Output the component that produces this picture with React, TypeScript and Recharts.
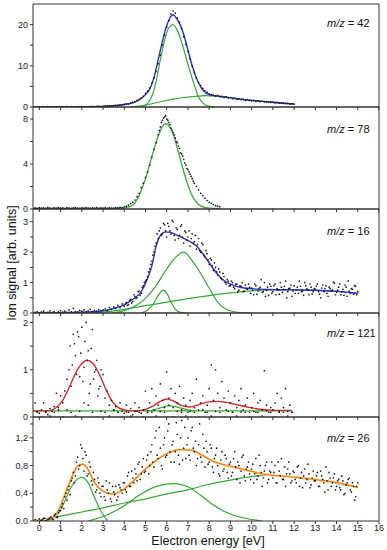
import React from 'react';
import { ComposedChart, Line, Scatter, XAxis, YAxis } from 'recharts';

const FONT = 'Arial, "Liberation Sans", sans-serif';
const X_DOMAIN: [number, number] = [-0.3, 16];
const X_TICKS = [0, 1, 2, 3, 4, 5, 6, 7, 8, 9, 10, 11, 12, 13, 14, 15, 16];

const BLUE = '#2e2ed6';
const GREEN = '#34aa34';
const RED = '#d42a2a';
const ORANGE = '#ee7d22';
const HALO = '#fbe7a8';
const AXIS = '#333';

type Pt = { x: number; y: number };
const zip = (xs: number[], ys: number[]): Pt[] => xs.map((x, i) => ({ x, y: ys[i] }));
const scan = (x0: number, ys: number[], step = 0.1): Pt[] =>
  ys.map((y, i) => ({ x: +(x0 + i * step).toFixed(2), y }));

// ---------- m/z = 42 ----------
const fit42X = [-0.3, 1, 2, 3, 3.5, 4, 4.4, 4.7, 5.0, 5.2, 5.4, 5.6, 5.8, 6.0, 6.15, 6.3, 6.45, 6.6, 6.8, 7.0, 7.2, 7.4, 7.6, 7.8, 8.0, 8.3, 8.7, 9.2, 10, 11, 12];
const fit42Y = [0, 0.02, 0.05, 0.15, 0.3, 0.6, 1.0, 1.7, 3.0, 4.4, 7.2, 11.5, 16.0, 19.8, 21.6, 22.4, 21.6, 20.3, 17.6, 13.8, 10.0, 7.0, 4.9, 3.6, 3.0, 2.7, 2.45, 2.1, 1.6, 1.15, 0.7];
const peak42X = [4.6, 4.9, 5.1, 5.3, 5.5, 5.7, 5.9, 6.1, 6.3, 6.5, 6.7, 6.9, 7.1, 7.3, 7.5, 7.7, 7.9, 8.2];
const peak42Y = [0, 0.25, 0.9, 2.6, 6.3, 11.5, 16.2, 19.3, 20.0, 18.6, 15.8, 12.2, 8.6, 5.4, 2.4, 1.0, 0.3, 0.05];
const bg42X = [4.3, 4.8, 5.3, 5.8, 6.3, 6.8, 7.3, 7.8, 8.3, 8.7, 9.2, 10, 11, 12];
const bg42Y = [0, 0.3, 0.8, 1.4, 1.9, 2.3, 2.55, 2.75, 2.65, 2.45, 2.1, 1.6, 1.15, 0.7];
const dots42Y = [
  0.05, 0.0, 0.08, 0.02, 0.1, 0.0, 0.04, 0.06, 0.0, 0.09,
  0.03, 0.05, 0.0, 0.07, 0.02, 0.1, 0.04, 0.0, 0.08, 0.05,
  0.12, 0.03, 0.09, 0.06, 0.1, 0.15, 0.08, 0.14, 0.2, 0.12,
  0.18, 0.25, 0.2, 0.3, 0.26, 0.35, 0.42, 0.38, 0.5, 0.55,
  0.62, 0.8, 0.75, 1.0, 1.1, 1.3, 1.6, 1.9, 2.2, 2.6,
  3.3, 3.9, 4.6, 5.8, 7.0, 8.6, 10.5, 12.6, 15.0, 17.4,
  19.4, 21.0, 22.6, 23.3, 22.8, 21.6, 20.6, 19.0, 17.0, 15.2,
  13.5, 11.6, 9.9, 8.4, 7.1, 6.0, 5.2, 4.5, 4.0, 3.6,
  3.2, 3.0, 2.9, 2.7, 2.8, 2.5, 2.6, 2.3, 2.5, 2.2,
  2.3, 2.0, 2.1, 1.9, 2.0, 1.8, 1.9, 1.6, 1.8, 1.6,
  1.5, 1.6, 1.4, 1.5, 1.3, 1.4, 1.2, 1.3, 1.2, 1.1,
  1.2, 1.0, 1.1, 0.95, 1.0, 0.9, 0.85, 0.9, 0.75, 0.8,
  0.7,
];

// ---------- m/z = 78 ----------
const fit78X = [-0.3, 1, 2, 3, 3.6, 4.0, 4.4, 4.7, 5.0, 5.2, 5.4, 5.6, 5.8, 5.95, 6.1, 6.3, 6.5, 6.7, 6.9, 7.1, 7.3, 7.5, 7.7, 8.0, 8.5];
const fit78Y = [0.05, 0.05, 0.05, 0.05, 0.06, 0.1, 0.35, 1.2, 2.7, 4.0, 5.3, 6.5, 7.35, 7.6, 7.4, 6.7, 5.4, 4.0, 2.7, 1.6, 0.85, 0.4, 0.18, 0.07, 0.05];
const dots78Y = [
  0.1, 0.05, 0.12, 0.08, 0.1, 0.06, 0.14, 0.09, 0.05, 0.11,
  0.08, 0.13, 0.07, 0.1, 0.04, 0.12, 0.09, 0.06, 0.1, 0.13,
  0.08, 0.05, 0.11, 0.07, 0.12, 0.09, 0.06, 0.1, 0.08, 0.12,
  0.05, 0.1,
  0.08, 0.11, 0.06, 0.1, 0.09, 0.07, 0.12, 0.1, 0.14, 0.12,
  0.2, 0.25, 0.35, 0.5, 0.6, 0.8, 1.1, 1.4, 1.9, 2.3,
  2.8, 3.3, 3.9, 4.6, 5.3, 5.9, 6.6, 7.3, 7.9, 8.2,
  8.0, 7.7, 7.2, 6.8, 6.3, 5.9, 5.4, 4.9, 4.4, 3.9,
  3.5, 3.1, 2.7, 2.3, 2.0, 1.7, 1.4, 1.2, 0.95, 0.75,
  0.6, 0.5, 0.4, 0.3, 0.25, 0.2,
];
const dots78bY = [7.0, 7.7, 8.1, 8.3, 7.9, 7.5, 7.0, 6.6, 6.0, 5.6, 5.0, 4.7, 4.1, 3.6, 3.3, 2.9, 2.5];

// ---------- m/z = 16 ----------
const fit16X = [-0.3, 1, 2, 2.8, 3.5, 4.0, 4.4, 4.8, 5.1, 5.3, 5.5, 5.7, 5.9, 6.1, 6.5, 7.0, 7.4, 7.8, 8.2, 8.6, 9.0, 9.5, 10, 11, 12, 13, 14, 15];
const fit16Y = [0, 0.01, 0.03, 0.05, 0.15, 0.27, 0.45, 0.7, 1.15, 1.55, 2.2, 2.55, 2.66, 2.66, 2.55, 2.38, 2.2, 1.85, 1.45, 1.12, 0.95, 0.84, 0.8, 0.77, 0.76, 0.75, 0.71, 0.65];
const bigPeak16X = [3.4, 4.0, 4.5, 5.0, 5.5, 6.0, 6.4, 6.8, 7.2, 7.6, 8.0, 8.4, 8.8, 9.2, 9.6, 10];
const bigPeak16Y = [0, 0.08, 0.22, 0.48, 0.9, 1.45, 1.82, 2.0, 1.72, 1.3, 0.82, 0.36, 0.12, 0.04, 0.01, 0];
const smallPeak16X = [4.8, 5.1, 5.35, 5.55, 5.7, 5.85, 6.0, 6.2, 6.4, 6.65, 6.9];
const smallPeak16Y = [0, 0.1, 0.28, 0.52, 0.68, 0.75, 0.66, 0.36, 0.13, 0.02, 0];
const step16X = [2.0, 3.0, 4.0, 5.0, 6.0, 7.0, 8.0, 9.0, 10, 11, 12, 13, 14, 15];
const step16Y = [0, 0.03, 0.12, 0.24, 0.36, 0.47, 0.57, 0.66, 0.73, 0.76, 0.76, 0.75, 0.71, 0.65];
const dots16Y = [
  0.02, 0.05, 0.0, 0.04, 0.06, 0.01, 0.03, 0.07, 0.02, 0.05,
  0.0, 0.04, 0.08, 0.03, 0.06, 0.02, 0.1, 0.04, 0.15, 0.05,
  0.03, 0.08, 0.06, 0.1, 0.04, 0.07, 0.12, 0.05, 0.09, 0.06,
  0.11, 0.08,
  0.1, 0.14, 0.08, 0.18, 0.12, 0.2, 0.15, 0.25, 0.18, 0.3,
  0.22, 0.35, 0.28, 0.45, 0.38, 0.55, 0.5, 0.72, 0.65, 0.9,
  1.05, 1.2, 1.45, 1.7, 2.0, 2.3, 2.45, 2.8, 2.6, 2.9,
  2.5, 2.85, 2.6, 3.0, 2.4, 2.75, 2.55, 2.9, 2.3, 2.65,
  2.5, 2.2, 2.6, 2.35, 2.1, 2.45, 2.0, 2.25, 1.85, 1.95,
  1.6, 1.75, 1.4, 1.5, 1.25, 1.35, 1.1, 1.2, 0.95, 1.05,
  0.9, 1.0, 0.8, 0.95, 0.75, 0.88, 0.7, 0.92, 0.78, 0.85,
  0.82, 0.6, 0.9, 0.72, 0.85, 0.68, 1.0, 0.75, 0.58, 0.88,
  0.7, 0.95, 0.8, 0.62, 0.85, 0.78, 1.05, 0.7, 0.82, 0.55,
  0.9, 0.75, 0.65, 0.88, 0.72, 1.0, 0.8, 0.6, 0.85, 0.7,
  0.78, 0.95, 0.62, 0.82, 0.7, 0.9, 0.55, 0.8, 0.75, 0.98,
  0.68, 0.85, 0.6, 0.78, 0.92, 0.55, 0.72, 0.8, 0.62, 0.88,
  0.7,
];
const dots16bY = [
  0.3, 0.25, 0.42, 0.33, 0.6, 0.48, 0.7, 0.58, 0.85, 1.0,
  1.1, 1.35, 1.6, 1.9, 2.2, 2.6, 2.7, 2.55, 2.95, 2.7,
  2.95, 2.7, 3.05, 2.55, 2.8, 2.45, 2.85, 2.5, 2.7, 2.4,
  2.7, 2.45, 2.3, 2.55, 2.25, 2.05, 2.3, 1.9, 2.05, 1.75,
  1.8, 1.55, 1.65, 1.35, 1.45, 1.15, 1.3, 1.0, 1.1, 0.9,
  1.05, 0.85, 0.95, 0.7, 0.9, 1.0, 0.72, 0.8, 0.95, 0.65,
  0.75, 0.95, 0.62, 0.8, 1.1, 0.7, 0.55, 0.85, 0.95, 0.65,
  0.9, 0.6, 0.75, 1.0, 0.68, 0.88, 0.5, 0.8, 0.92, 0.72,
  0.65, 0.85, 1.05, 0.7, 0.58, 0.9, 0.75, 0.95, 0.62, 0.8,
  0.88, 0.7, 0.5, 0.92, 0.8, 0.65, 0.85, 0.72, 1.02, 0.6,
  0.75, 0.95, 0.7, 0.58, 0.85, 1.05, 0.65, 0.78, 0.9, 0.6,
];

// ---------- m/z = 121 ----------
const fit121X = [-0.3, 0.5, 0.8, 1.1, 1.4, 1.7, 2.0, 2.25, 2.5, 2.8, 3.1, 3.4, 3.8, 4.3, 4.8, 5.3, 5.7, 6.0, 6.3, 6.7, 7.1, 7.5, 8.0, 8.4, 8.8, 9.3, 9.8, 10.5, 11.2, 11.9];
const fit121Y = [0.13, 0.14, 0.2, 0.35, 0.62, 0.92, 1.13, 1.2, 1.14, 0.93, 0.62, 0.35, 0.18, 0.13, 0.14, 0.22, 0.33, 0.38, 0.34, 0.24, 0.21, 0.26, 0.32, 0.33, 0.31, 0.26, 0.21, 0.16, 0.14, 0.14];
const base121X = [-0.3, 11.9];
const base121Y = [0.13, 0.13];
const bump121X = [5.2, 5.6, 5.9, 6.1, 6.3, 6.6, 7.0, 7.3];
const bump121Y = [0.13, 0.18, 0.22, 0.24, 0.23, 0.2, 0.15, 0.13];
const dots121Y = [
  0.3, 0.12, 0.08, 0.15, 0.3, 0.1, 0.05, 0.18, 0.12, 0.22, 0.5, 0.15,
  0.45, 0.3, 0.55, 0.8, 1.0, 0.65, 1.75, 1.3, 1.8, 0.85,
  1.9, 1.05, 2.0, 1.4, 0.7, 1.85, 0.95, 1.2, 0.6, 1.0,
  0.9, 0.4, 0.55, 0.25, 0.35, 0.15, 0.22, 0.1, 0.3, 0.12,
  0.08, 0.25, 0.1, 0.18, 0.05, 0.3, 0.12, 0.2, 0.08, 0.15,
  0.55, 0.1, 0.3, 0.6, 0.15, 0.45, 0.25, 0.7, 0.35, 0.2,
  0.95, 0.4, 0.6, 0.2, 0.5, 0.3, 0.65, 0.15, 0.4, 0.25,
  0.1, 0.35, 0.5, 0.2, 0.8, 0.15, 0.3, 0.45, 0.1, 0.25,
  0.6, 1.1, 0.35, 1.0, 0.5, 0.2, 0.75, 0.4, 0.15, 0.55,
  0.3, 0.1, 0.45, 0.2, 0.35, 0.6, 0.15, 0.25, 0.4, 0.1,
  0.2, 0.5, 0.1, 0.3, 0.35, 0.15, 0.98, 0.25, 0.1, 0.2,
  0.15, 0.3, 0.5, 0.1, 0.4, 0.2, 0.6, 0.12, 0.25, 0.1,
];
const dots121bY = [
  0.1, 0.0, 0.12, 0.02, 0.1, 0.2, 0.0, 0.15, 0.1, 0.02,
  0.12, 0.3, 0.25, 0.1, 0.0, 0.12, 0.1, 0.02, 0.14, 0.1,
  0.0, 0.11, 0.02, 0.12, 0.1, 0.0, 0.13, 0.1, 0.02, 0.12,
  0.1, 0.25, 0.0, 0.12, 0.1, 0.02, 0.12, 0.1, 0.0, 0.15,
  0.1, 0.02, 0.12, 0.1, 0.0, 0.12, 0.1, 0.02, 0.11, 0.1,
  0.0, 0.12, 0.1, 0.02, 0.13, 0.1, 0.0, 0.12, 0.1, 0.02,
  0.1,
];
const dots121cY = [1.5, 1.1, 1.55, 0.9, 1.7, 1.35, 0.75, 1.6, 1.2, 0.5, 1.45, 0.8, 1.0, 0.45, 0.65];

// ---------- m/z = 26 ----------
const fit26X = [-0.3, 0.3, 0.6, 0.9, 1.2, 1.5, 1.8, 2.05, 2.3, 2.6, 3.0, 3.4, 3.9, 4.4, 4.9, 5.4, 6.0, 6.6, 7.2, 7.6, 8.2, 9.0, 9.8, 10.5, 11.3, 12.1, 12.9, 13.7, 14.5, 15.0];
const fit26Y = [0.0, 0.01, 0.04, 0.15, 0.38, 0.61, 0.79, 0.82, 0.74, 0.55, 0.43, 0.39, 0.44, 0.57, 0.72, 0.85, 0.97, 1.03, 1.02, 0.96, 0.86, 0.79, 0.73, 0.68, 0.65, 0.63, 0.6, 0.57, 0.52, 0.48];
const peakA26X = [0.4, 0.8, 1.1, 1.4, 1.7, 2.0, 2.3, 2.6, 2.9, 3.2];
const peakA26Y = [0, 0.07, 0.22, 0.43, 0.58, 0.63, 0.55, 0.34, 0.14, 0.01];
const peakB26X = [2.3, 3.2, 4.0, 4.7, 5.5, 6.3, 7.1, 7.6, 8.2, 9.0, 9.7, 10.5];
const peakB26Y = [0, 0.09, 0.22, 0.37, 0.5, 0.54, 0.48, 0.37, 0.23, 0.1, 0.04, 0];
const broad26X = [-0.3, 1, 2, 3, 4, 5, 6, 7, 8, 9, 10, 11, 12, 13, 14, 15];
const broad26Y = [0, 0.07, 0.13, 0.19, 0.26, 0.32, 0.39, 0.45, 0.53, 0.59, 0.64, 0.66, 0.64, 0.6, 0.54, 0.48];
const dots26Y = [
  0.02, 0.0, 0.03, 0.01, 0.04, 0.0, 0.02, 0.05, 0.03, 0.08, 0.06, 0.12,
  0.15, 0.25, 0.35, 0.3, 0.5, 0.58, 0.7, 0.65, 0.92, 0.8,
  1.05, 0.72, 0.95, 0.68, 0.78, 0.52, 0.6, 0.45, 0.55, 0.35,
  0.5, 0.3, 0.45, 0.55, 0.28, 0.42, 0.5, 0.35, 0.48, 0.4,
  0.55, 0.42, 0.7, 0.5, 0.62, 0.75, 0.58, 0.85, 0.68, 0.9,
  0.72, 0.95, 0.8, 1.1, 0.78, 1.3, 0.9, 1.05, 0.75, 1.2,
  0.95, 1.4, 0.85, 1.15, 1.0, 1.25, 0.82, 1.45, 1.05, 0.9,
  1.2, 0.88, 1.35, 1.0, 0.8, 1.1, 0.92, 1.25, 0.78, 1.0,
  0.85, 1.05, 0.7, 0.95, 0.8, 0.65, 1.0, 0.75, 0.9, 0.62,
  0.85, 0.7, 1.0, 0.6, 0.8, 0.72, 0.95, 0.58, 0.78, 0.68,
  0.75, 0.55, 0.9, 0.65, 0.8, 0.5, 0.72, 0.85, 0.6, 0.7,
  0.62, 0.8, 0.55, 0.72, 0.9, 0.6, 0.5, 0.75, 0.68, 0.58,
  0.7, 0.55, 0.8, 0.62, 0.48, 0.75, 0.6, 0.68, 0.52, 0.72,
  0.58, 0.7, 0.5, 0.65, 0.55, 0.78, 0.45, 0.62, 0.55, 0.68,
  0.5, 0.6, 0.45, 0.58, 0.4, 0.55, 0.62, 0.42, 0.5, 0.35,
  0.55,
];
const dots26bY = [
  0.0, 0.02, 0.04, 0.0, 0.03, 0.06, 0.02, 0.1, 0.05, 0.15,
  0.2, 0.18, 0.4, 0.45, 0.38, 0.62, 0.55, 0.85, 0.75, 1.1,
  0.9, 1.0, 0.65, 0.85, 0.58, 0.7, 0.42, 0.62, 0.4, 0.5,
  0.35, 0.58, 0.4, 0.32, 0.5, 0.38, 0.3, 0.52, 0.45, 0.55,
  0.45, 0.65, 0.5, 0.72, 0.55, 0.68, 0.82, 0.6, 0.78, 0.7,
  0.88, 0.68, 1.0, 0.85, 1.2, 0.95, 1.35, 0.8, 1.1, 0.92,
  1.3, 1.0, 1.1, 0.85, 1.42, 0.95, 1.2, 0.88, 1.35, 1.1,
  0.95, 1.3, 1.05, 1.15, 0.9, 1.4, 0.85, 1.05, 1.15, 0.82,
  1.1, 0.78, 0.9, 1.05, 0.68, 0.88, 0.72, 0.95, 0.7, 0.82,
  0.65, 0.9, 0.78, 0.85, 0.55, 0.92, 0.65, 0.75, 0.85, 0.6,
  0.82, 0.68, 0.6, 0.95, 0.7, 0.62, 0.8, 0.55, 0.72, 0.85,
  0.7, 0.55, 0.85, 0.65, 0.6, 0.78, 0.68, 0.85, 0.55, 0.72,
  0.6, 0.78, 0.5, 0.7, 0.65, 0.55, 0.82, 0.48, 0.62, 0.58,
  0.65, 0.5, 0.72, 0.6, 0.42, 0.58, 0.7, 0.5, 0.62, 0.45,
  0.58, 0.48, 0.65, 0.38, 0.52, 0.6, 0.45, 0.55, 0.3, 0.5,
];

type Curve = { data: Pt[]; color: string; width: number };

interface PanelDef {
  label: string;
  top: number;
  height: number;
  yMax: number;
  yTicks: number[];
  yShown: number[];
  comma?: boolean;
  labelDy: number;
  dots: Pt[];
  curves: Curve[];
}

const panels: PanelDef[] = [
  {
    label: '42', top: 4, height: 103, yMax: 25, yTicks: [0, 5, 10, 15, 20], yShown: [0, 10, 20], labelDy: 23,
    dots: scan(0, dots42Y),
    curves: [
      { data: zip(bg42X, bg42Y), color: GREEN, width: 1.2 },
      { data: zip(peak42X, peak42Y), color: GREEN, width: 1.2 },
      { data: zip(fit42X, fit42Y), color: BLUE, width: 1.4 },
    ],
  },
  {
    label: '78', top: 107, height: 102, yMax: 9.07, yTicks: [0, 2, 4, 6, 8], yShown: [0, 4, 8], labelDy: 26,
    dots: [...scan(-0.2, dots78Y), ...scan(5.65, dots78bY)],
    curves: [{ data: zip(fit78X, fit78Y), color: GREEN, width: 1.3 }],
  },
  {
    label: '16', top: 209, height: 104, yMax: 3.42, yTicks: [0, 0.5, 1, 1.5, 2, 2.5, 3], yShown: [0, 1, 2, 3], labelDy: 26,
    dots: [...scan(-0.2, dots16Y), ...scan(4.05, dots16bY)],
    curves: [
      { data: zip(step16X, step16Y), color: GREEN, width: 1.2 },
      { data: zip(bigPeak16X, bigPeak16Y), color: GREEN, width: 1.2 },
      { data: zip(smallPeak16X, smallPeak16Y), color: GREEN, width: 1.2 },
      { data: zip(fit16X, fit16Y), color: BLUE, width: 1.4 },
    ],
  },
  {
    label: '121', top: 313, height: 104, yMax: 2.2, yTicks: [0, 0.5, 1, 1.5, 2], yShown: [0, 1, 2], labelDy: 24,
    dots: [...scan(-0.2, dots121Y), ...scan(-0.1, dots121bY, 0.2), ...scan(1.45, dots121cY)],
    curves: [
      { data: zip(base121X, base121Y), color: GREEN, width: 1.2 },
      { data: zip(bump121X, bump121Y), color: GREEN, width: 1.2 },
      { data: zip(fit121X, fit121Y), color: RED, width: 1.4 },
    ],
  },
  {
    label: '26', top: 417, height: 104, yMax: 1.5, yTicks: [0, 0.2, 0.4, 0.6, 0.8, 1.0, 1.2, 1.4], yShown: [0, 0.4, 0.8, 1.2], comma: true, labelDy: 25,
    dots: [...scan(-0.2, dots26Y), ...scan(0.05, dots26bY)],
    curves: [
      { data: zip(broad26X, broad26Y), color: GREEN, width: 1.2 },
      { data: zip(peakA26X, peakA26Y), color: GREEN, width: 1.2 },
      { data: zip(peakB26X, peakB26Y), color: GREEN, width: 1.2 },
      { data: zip(fit26X, fit26Y), color: HALO, width: 2.8 },
      { data: zip(fit26X, fit26Y), color: ORANGE, width: 1.3 },
    ],
  },
];

const dotShape = (p: any) => <circle cx={p.cx} cy={p.cy} r={0.85} fill="#1a1a1a" />;

function Panel({ def, last }: { def: PanelDef; last: boolean }) {
  const axisH = last ? 22 : 6;
  const fmtY = (v: number) => {
    if (!def.yShown.some((s) => Math.abs(s - v) < 1e-9)) return '';
    return def.comma ? v.toFixed(1).replace('.', ',') : String(v);
  };
  return (
    <div style={{ position: 'absolute', left: 0, top: def.top - 2 }}>
      <ComposedChart
        width={387}
        height={2 + def.height + axisH}
        margin={{ top: 1, right: 7, bottom: 0, left: 0 }}
      >
        <XAxis
          dataKey="x"
          type="number"
          domain={X_DOMAIN}
          ticks={X_TICKS}
          interval={0}
          allowDataOverflow
          height={axisH}
          tickSize={3}
          tickMargin={1}
          axisLine={{ stroke: AXIS, strokeWidth: 1 }}
          tickLine={{ stroke: AXIS }}
          tick={{ fontSize: 9, fill: '#222', fontFamily: FONT }}
          tickFormatter={(v: number) => (last ? String(v) : '')}
        />
        <XAxis
          xAxisId="top"
          orientation="top"
          dataKey="x"
          type="number"
          domain={X_DOMAIN}
          allowDataOverflow
          height={1}
          tick={false}
          tickLine={false}
          axisLine={{ stroke: AXIS, strokeWidth: 1 }}
        />
        <YAxis
          dataKey="y"
          type="number"
          domain={[0, def.yMax]}
          ticks={def.yTicks}
          interval={0}
          allowDataOverflow
          width={33}
          tickSize={3}
          tickMargin={2}
          axisLine={{ stroke: AXIS, strokeWidth: 1 }}
          tickLine={{ stroke: AXIS }}
          tick={{ fontSize: 9, fill: '#222', fontFamily: FONT }}
          tickFormatter={fmtY}
        />
        <YAxis
          yAxisId="right"
          orientation="right"
          type="number"
          domain={[0, def.yMax]}
          width={1}
          tick={false}
          tickLine={false}
          axisLine={{ stroke: AXIS, strokeWidth: 1 }}
        />
        <Scatter data={def.dots} dataKey="y" shape={dotShape} isAnimationActive={false} />
        {def.curves.map((c, i) => (
          <Line
            key={i}
            data={c.data}
            dataKey="y"
            type="monotone"
            stroke={c.color}
            strokeWidth={c.width}
            dot={false}
            activeDot={false}
            isAnimationActive={false}
          />
        ))}
      </ComposedChart>
    </div>
  );
}

export default function App() {
  return (
    <div style={{ position: 'absolute', left: 0, top: 0, width: 387, height: 550, background: '#fff' }}>
      {panels.map((p, i) => (
        <Panel key={p.label} def={p} last={i === panels.length - 1} />
      ))}
      <svg
        width={387}
        height={550}
        style={{ position: 'absolute', left: 0, top: 0, pointerEvents: 'none' }}
        fontFamily={FONT}
      >
        {panels.map((p) => (
          <text key={p.label} x={327} y={p.top + p.labelDy} fontSize={11} fill="#111">
            <tspan fontStyle="italic">m/z</tspan> = {p.label}
          </text>
        ))}
        <text
          x={16}
          y={263}
          fontSize={12.5}
          fill="#111"
          textAnchor="middle"
          transform="rotate(-90 16 263)"
        >
          Ion signal [arb. units]
        </text>
        <text x={208} y={545} fontSize={12.5} fill="#111" textAnchor="middle">
          Electron energy [eV]
        </text>
      </svg>
    </div>
  );
}
